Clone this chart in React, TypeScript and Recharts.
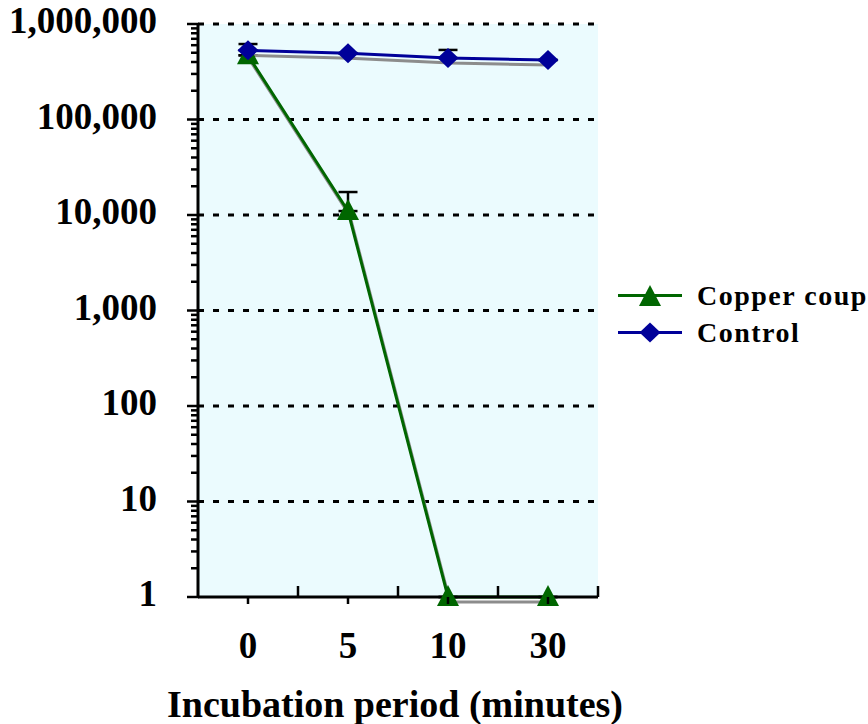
import React from "react";
import {
  CartesianGrid,
  ErrorBar,
  Label,
  Line,
  LineChart,
  ReferenceLine,
  XAxis,
  YAxis,
} from "recharts";

// incubation times (minutes)
const times = ["0", "5", "10", "30"];

// counts
const copperValues = [470000, 11000, 1, 1];
const controlValues = [530000, 495000, 440000, 420000];

// upper error only: [below, above]
const copperErrors = [
  [0, 0],
  [0, 6400],
  [0, 0],
  [0, 0],
];
const controlErrors = [
  [0, 87000],
  [0, 0],
  [0, 95000],
  [0, 0],
];

const decadeTicks = [1, 10, 100, 1000, 10000, 100000, 1000000];
const minorTicks = [2, 3, 4, 5, 6, 7, 8, 9];
const allTicks = [
  ...decadeTicks.slice(0, -1).flatMap((d) => [d, ...minorTicks.map((m) => m * d)]),
  1000000,
];

const seriesNames = ["Copper coupon", "Control"];
const GREEN = "#006600";
const BLUE = "#000099";

const W = 868;
const H = 724;
const Y_AXIS_W = 198;
const MARGIN_RIGHT = 270;
const PLOT_W = W - Y_AXIS_W - MARGIN_RIGHT;
const HALF_BAND = PLOT_W / times.length / 2;
const FONT = "'Liberation Serif', 'Times New Roman', serif";

const data = times.map((t, i) => ({
  time: t,
  copper: copperValues[i],
  control: controlValues[i],
  copperErr: copperErrors[i],
  controlErr: controlErrors[i],
}));

const Diamond = ({ cx, cy, fill }: any) => {
  if (cx == null || cy == null) return null;
  return (
    <polygon
      points={`${cx},${cy - 10} ${cx + 10.5},${cy} ${cx},${cy + 10} ${cx - 10.5},${cy}`}
      fill={fill}
    />
  );
};

const Triangle = ({ cx, cy, fill }: any) => {
  if (cx == null || cy == null) return null;
  return (
    <polygon
      points={`${cx},${cy - 12} ${cx + 11},${cy + 9} ${cx - 11},${cy + 9}`}
      fill={fill}
    />
  );
};

const YTick = ({ x, y, payload }: any) => {
  const v = payload.value;
  const major = decadeTicks.includes(v);
  return (
    <g>
      <line
        x1={x - (major ? 11 : 7)}
        y1={y}
        x2={x + 1}
        y2={y}
        stroke="#000"
        strokeWidth={2.5}
      />
      {major && (
        <text
          x={x - 41}
          y={y}
          dy={9}
          textAnchor="end"
          fontFamily={FONT}
          fontWeight="bold"
          fontSize={37}
          fill="#000"
        >
          {v.toLocaleString("en-US")}
        </text>
      )}
    </g>
  );
};

const XTick = ({ x, y, payload }: any) => (
  <g>
    <line x1={x} y1={y} x2={x} y2={y + 7} stroke="#000" strokeWidth={2.5} />
    <line
      x1={x + HALF_BAND}
      y1={y}
      x2={x + HALF_BAND}
      y2={y - 11}
      stroke="#000"
      strokeWidth={2.5}
    />
    <text
      x={x}
      y={y + 61}
      textAnchor="middle"
      fontFamily={FONT}
      fontWeight="bold"
      fontSize={37}
      fill="#000"
    >
      {payload.value}
    </text>
  </g>
);

const XTitle = ({ viewBox }: any) => (
  <text
    x={viewBox.x + viewBox.width / 2 - 3}
    y={viewBox.y + viewBox.height - 7}
    textAnchor="middle"
    fontFamily={FONT}
    fontWeight="bold"
    fontSize={38}
    fill="#000"
  >
    Incubation period (minutes)
  </text>
);

const LegendRow = ({ name, color, marker }: any) => (
  <div style={{ display: "flex", alignItems: "center", height: 37 }}>
    <svg width={64} height={37}>
      <line x1={0} y1={18.5} x2={64} y2={18.5} stroke={color} strokeWidth={3} />
      {marker === "triangle" ? (
        <Triangle cx={32} cy={20} fill={color} />
      ) : (
        <Diamond cx={32} cy={18.5} fill={color} />
      )}
    </svg>
    <span
      style={{
        marginLeft: 15,
        fontFamily: FONT,
        fontWeight: "bold",
        fontSize: 28,
        letterSpacing: 1.5,
        whiteSpace: "nowrap",
        color: "#000",
      }}
    >
      {name}
    </span>
  </div>
);

export default function App() {
  return (
    <div style={{ position: "relative", width: W, height: H, overflow: "hidden", background: "#fff" }}>
      <style>{`
        body { margin: 0; }
        .shadowed { filter: drop-shadow(2px 5px 0 #8c8c8c); }
      `}</style>
      <LineChart
        width={W}
        height={H}
        data={data}
        margin={{ top: 24, right: MARGIN_RIGHT, bottom: 0, left: 0 }}
      >
        <CartesianGrid fill="#EBFBFE" horizontal={false} vertical={false} stroke="none" />
        <XAxis
          dataKey="time"
          scale="band"
          height={127}
          tickLine={false}
          tickSize={0}
          tickMargin={0}
          axisLine={{ stroke: "#000", strokeWidth: 3 }}
          tick={<XTick />}
          interval={0}
        >
          <Label content={<XTitle />} />
        </XAxis>
        <YAxis
          scale="log"
          type="number"
          domain={[1, 1000000]}
          ticks={allTicks}
          interval={0}
          width={Y_AXIS_W}
          tickLine={false}
          tickSize={0}
          tickMargin={0}
          axisLine={{ stroke: "#000", strokeWidth: 3 }}
          tick={<YTick />}
        />
        {decadeTicks.slice(1).map((d) => (
          <ReferenceLine
            key={d}
            y={d}
            stroke="#000"
            strokeWidth={3}
            strokeDasharray="6 9"
          />
        ))}
        <Line
          dataKey="copper"
          stroke="none"
          dot={false}
          activeDot={false}
          legendType="none"
          isAnimationActive={false}
        >
          <ErrorBar dataKey="copperErr" width={9.5} stroke="#000" strokeWidth={2.5} direction="y" />
        </Line>
        <Line
          dataKey="control"
          stroke="none"
          dot={false}
          activeDot={false}
          legendType="none"
          isAnimationActive={false}
        >
          <ErrorBar dataKey="controlErr" width={9.5} stroke="#000" strokeWidth={2.5} direction="y" />
        </Line>
        <Line
          className="shadowed"
          dataKey="copper"
          name={seriesNames[0]}
          stroke={GREEN}
          strokeWidth={3}
          fill={GREEN}
          dot={(p: any) => <Triangle key={`c${p.index}`} cx={p.cx} cy={p.cy} fill={GREEN} />}
          activeDot={false}
          isAnimationActive={false}
        />
        <Line
          className="shadowed"
          dataKey="control"
          name={seriesNames[1]}
          stroke={BLUE}
          strokeWidth={3}
          fill={BLUE}
          dot={(p: any) => <Diamond key={`k${p.index}`} cx={p.cx} cy={p.cy} fill={BLUE} />}
          activeDot={false}
          isAnimationActive={false}
        />
      </LineChart>
      <div style={{ position: "absolute", left: 618, top: 277 }}>
        <LegendRow name={seriesNames[0]} color={GREEN} marker="triangle" />
        <LegendRow name={seriesNames[1]} color={BLUE} marker="diamond" />
      </div>
    </div>
  );
}
